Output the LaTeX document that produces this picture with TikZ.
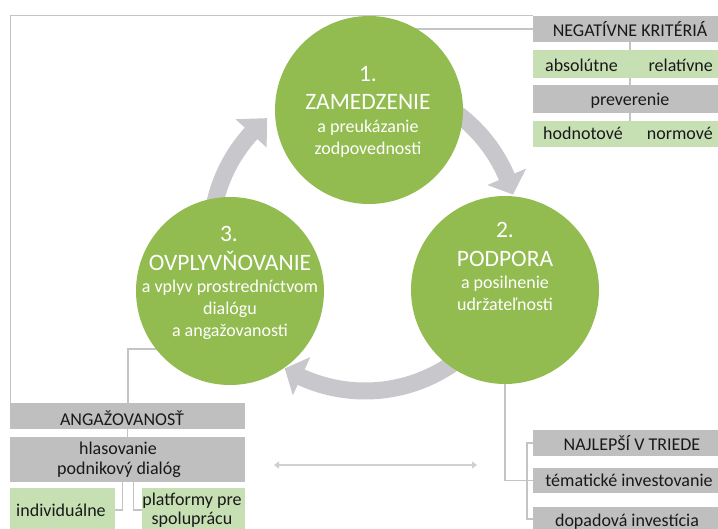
\documentclass[tikz,border=0pt]{standalone}
\usepackage{fontspec}
\setmainfont{Carlito}
\usetikzlibrary{calc,arrows.meta}
\definecolor{stagegreen}{HTML}{92BC4F}
\definecolor{arrowgray}{HTML}{C8C8CC}
\definecolor{boxgray}{HTML}{BFBFBF}
\definecolor{boxgreen}{HTML}{C6E0B4}
\definecolor{linegray}{HTML}{C4C4C4}
\definecolor{dblgray}{HTML}{D0D0D0}
\begin{document}
\begin{tikzpicture}[x=1pt,y=-1pt,
  stage/.style={circle, fill=stagegreen, minimum size=188pt, inner sep=0pt},
  bigt/.style={text=white, font=\fontsize{23.5}{28}\selectfont, anchor=base, inner sep=0pt},
  smallt/.style={text=white, font=\fontsize{18}{22}\selectfont, anchor=base, inner sep=0pt},
  box/.style={anchor=north west, inner sep=0pt, outer sep=0pt},
  graybox/.style={box, fill=boxgray},
  greenbox/.style={box, fill=boxgreen},
  boxt/.style={font=\fontsize{18}{22}\selectfont, inner sep=0pt, anchor=base, text=black!90},
  conn/.style={draw=linegray, line width=1.4pt},
  frameline/.style={draw=linegray, line width=1pt},
  band/.style={draw=arrowgray, line width=17pt},
  head/.style={fill=arrowgray},
  dbl/.style={draw=dblgray, line width=2pt, {Triangle[length=5pt,width=7pt]}-{Triangle[length=5pt,width=7pt]}}
]
\path[use as bounding box] (0,0) rectangle (718,529);
\clip (0,0) rectangle (718,529);
\fill[white] (0,0) rectangle (718,529);

% centre of the cycle
\coordinate (O) at (365,237);

% cycle arrows
\draw[band] ($(O)+(-88:154)$) arc[start angle=-88, end angle=-22, radius=154];
\fill[head] ($(O)+(-23:133)$) -- ($(O)+(-23:175)$) -- ($(O)+(-16:154)$) -- cycle;
\draw[band] ($(O)+(20:154)$) arc[start angle=20, end angle=115.5, radius=154];
\fill[head] ($(O)+(114.5:132)$) -- ($(O)+(114.5:174)$) -- ($(O)+(121.4:154)$) -- cycle;
\draw[band] ($(O)+(158:154)$) arc[start angle=158, end angle=223.3, radius=154];
\fill[head] ($(O)+(222.3:133)$) -- ($(O)+(222.3:175)$) -- ($(O)+(230.5:154)$) -- cycle;

% boxes top right
\node[graybox, minimum width=194pt, minimum height=26pt] (neg) at (533,16) {};
\node[greenbox, minimum width=194pt, minimum height=28pt] (absrel) at (533,50) {};
\node[graybox, minimum width=194pt, minimum height=28pt] (prev) at (533,85) {};
\node[greenbox, minimum width=194pt, minimum height=26pt] (hodnorm) at (533,121) {};

% boxes bottom right
\node[graybox, minimum width=194pt, minimum height=26pt] (naj) at (533,430) {};
\node[graybox, minimum width=194pt, minimum height=25pt] (tem) at (533,468) {};
\node[graybox, minimum width=194pt, minimum height=24pt] (dop) at (533,507) {};

% boxes bottom left
\node[graybox, minimum width=235pt, minimum height=26pt] (ang) at (10,403) {};
\node[graybox, minimum width=235pt, minimum height=45pt] (hlas) at (10,437) {};
\node[greenbox, minimum width=105pt, minimum height=44pt] (indiv) at (10,488) {};
\node[greenbox, minimum width=103pt, minimum height=44pt] (plat) at (142,488) {};

% connectors
\draw[frameline] (ang.north west) |- (neg.north west);
\draw[conn] (neg.west) -- (neg.west -| 400,0);
\draw[conn] (neg.south) -- (absrel.north);
\draw[conn] (absrel.south) -- (prev.north);
\draw[conn] (prev.south) -- (hodnorm.north);
\coordinate (k3) at (128,349);
\draw[conn] (k3 -| 180,0) -- (k3) -- (k3 |- ang.north);
\draw[conn] (ang.south) -- (hlas.north);
\draw[conn] ([xshift=-5pt]hlas.south) |- (indiv.east);
\draw[conn] ([xshift=6pt]hlas.south) |- (plat.west);
\draw[conn] (505,360) |- (tem.west);
\draw[conn] (naj.west) -- ++(-6,0) |- (dop.west);
\coordinate (da1) at (274,465);
\coordinate (da2) at (477,465);
\draw[dbl] (da1) -- (da2);

% circles
\node[stage] (s1) at (369,110) {};
\node[stage] (s2) at (505,290) {};
\node[stage] (s3) at (230,291) {};

% circle texts
\node[bigt] (s1a) at (368,82) {1.};
\node[bigt] (s1b) at (368,110) {ZAMEDZENIE};
\node[smallt] (s1c) at (368,133) {a preukázanie};
\node[smallt] (s1d) at (368,155) {zodpovednosti};

\node[bigt] (s2a) at (505,238) {2.};
\node[bigt] (s2b) at (505,267) {PODPORA};
\node[smallt] (s2c) at (505,289) {a posilnenie};
\node[smallt] (s2d) at (505,311) {udržateľnosti};

\node[bigt] (s3a) at (229,242) {3.};
\node[bigt] (s3b) at (230,271) {OVPLYVŇOVANIE};
\node[smallt] (s3c) at (230,293) {a vplyv prostredníctvom};
\node[smallt] (s3d) at (230,315) {dialógu};
\node[smallt] (s3e) at (230,337) {a angažovanosti};

% box texts
\node[boxt] (negt) at (630,37) {NEGATÍVNE KRITÉRIÁ};
\node[boxt, anchor=base west] (abst) at (545,72) {absolútne};
\node[boxt, anchor=base east] (relt) at (713,72) {relatívne};
\node[boxt] (prevt) at (630,106) {preverenie};
\node[boxt, anchor=base west] (hodt) at (543,140) {hodnotové};
\node[boxt, anchor=base east] (normt) at (713,140) {normové};

\node[boxt] (najt) at (632,450) {NAJLEPŠÍ V TRIEDE};
\node[boxt] (temt) at (629,486) {tématické investovanie};
\node[boxt] (dopt) at (627,526) {dopadová investícia};

\node[boxt] (angt) at (122,425) {ANGAŽOVANOSŤ};
\node[boxt] (hlast1) at (118,454) {hlasovanie};
\node[boxt] (hlast2) at (119,474) {podnikový dialóg};
\node[boxt] (indivt) at (61,516) {individuálne};
\node[boxt] (platt1) at (192,505) {platformy pre};
\node[boxt] (platt2) at (192,524) {spoluprácu};
\end{tikzpicture}
\end{document}
